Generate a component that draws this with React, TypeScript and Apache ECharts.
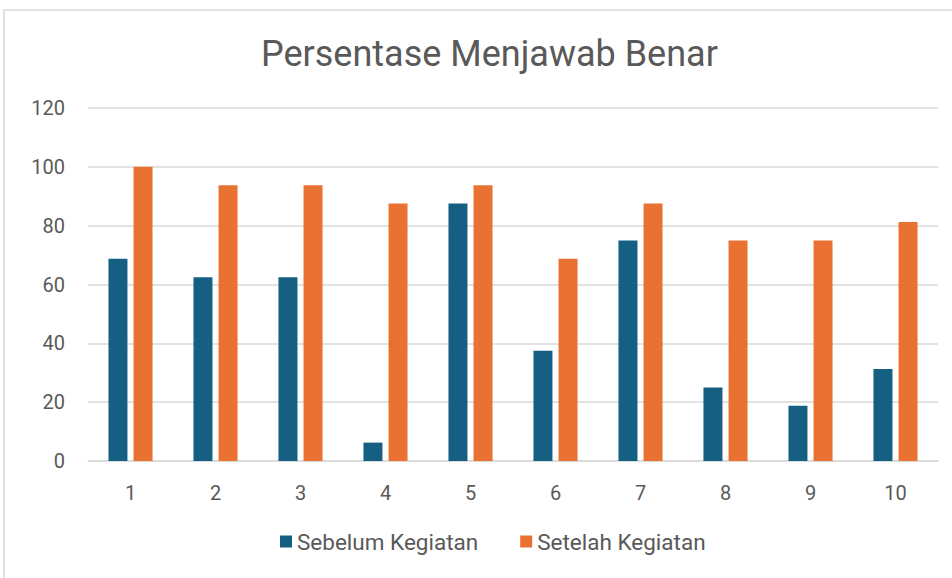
import React, { useEffect, useRef } from "react";
import * as echarts from "echarts";

const categories = ["1", "2", "3", "4", "5", "6", "7", "8", "9", "10"];
const sebelum = [68.75, 62.5, 62.5, 6.25, 87.5, 37.5, 75, 25, 18.75, 31.25];
const setelah = [100, 93.75, 93.75, 87.5, 93.75, 68.75, 87.5, 75, 75, 81.25];
const seriesNames = ["Sebelum Kegiatan", "Setelah Kegiatan"];
const titleText = "Persentase Menjawab Benar";

const FONT = "Roboto, sans-serif";

export default function App() {
  const ref = useRef<HTMLDivElement>(null);
  useEffect(() => {
    if (!ref.current) return;
    const chart = echarts.init(ref.current, undefined, { renderer: "svg" });
    chart.setOption({
      animation: false,
      backgroundColor: "#ffffff",
      graphic: [
        {
          type: "rect",
          shape: { x: 4, y: 10, width: 980, height: 600 },
          style: { fill: "none", stroke: "#D9D9D9", lineWidth: 1.5 },
          silent: true,
        },
      ],
      title: {
        text: titleText,
        left: 256,
        top: 31,
        textStyle: { fontFamily: FONT, fontSize: 36, fontWeight: "normal", color: "#595959" },
      },
      legend: {
        bottom: 20,
        left: 275,
        itemWidth: 12,
        itemHeight: 12,
        itemGap: 42,
        icon: "rect",
        textStyle: { fontFamily: FONT, fontSize: 22.5, color: "#595959" },
        data: seriesNames,
      },
      grid: { left: 88, right: 14, top: 108, bottom: 117, containLabel: false },
      xAxis: {
        type: "category",
        data: categories,
        axisLine: { lineStyle: { color: "#D9D9D9", width: 1.5 } },
        axisTick: { show: false },
        axisLabel: { fontFamily: FONT, fontSize: 20, color: "#595959", margin: 22 },
      },
      yAxis: {
        type: "value",
        min: 0,
        max: 120,
        interval: 20,
        axisLine: { show: false },
        axisTick: { show: false },
        splitLine: { lineStyle: { color: "#D9D9D9", width: 1.5 } },
        axisLabel: { fontFamily: FONT, fontSize: 20, color: "#595959", margin: 23 },
      },
      series: [
        {
          name: seriesNames[0],
          type: "bar",
          data: sebelum,
          itemStyle: { color: "#156082" },
          barWidth: 19,
          barGap: "32%",
        },
        {
          name: seriesNames[1],
          type: "bar",
          data: setelah,
          itemStyle: { color: "#E97132" },
          barWidth: 19,
          barGap: "32%",
        },
      ],
    });
    return () => chart.dispose();
  }, []);
  return (
    <div
      ref={ref}
      style={{ position: "fixed", left: 0, top: 0, width: 952, height: 578 }}
    />
  );
}
